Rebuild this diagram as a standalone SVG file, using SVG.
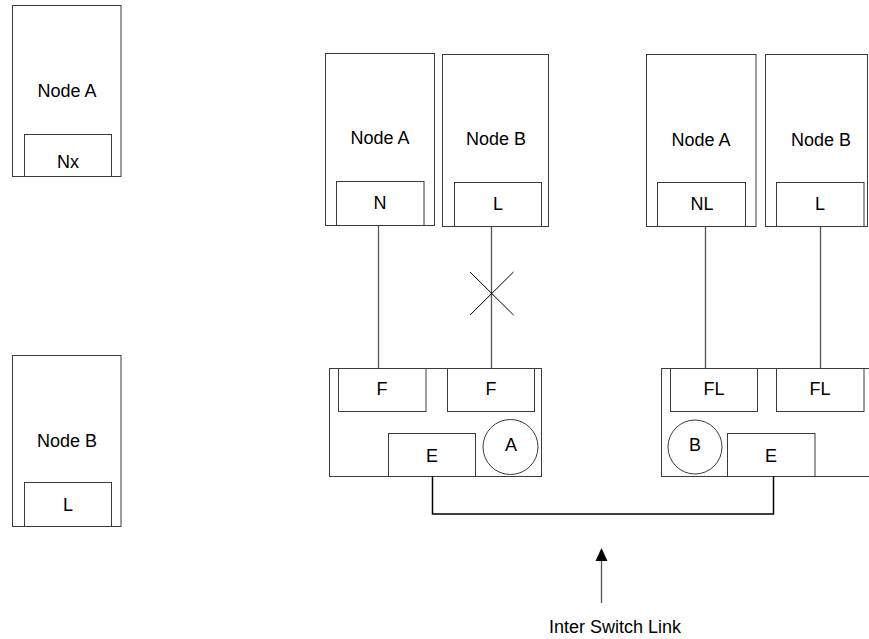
<svg xmlns="http://www.w3.org/2000/svg" width="869" height="639" viewBox="0 0 869 639">
  <style>
    .box { fill: #ffffff; stroke: #3a3a3a; stroke-width: 1; }
    .port { fill: #ffffff; stroke: #3a3a3a; stroke-width: 1; }
    .lbl { font-family: "Liberation Sans", Arial, sans-serif; font-size: 18px; fill: #000000; text-anchor: middle; }
    .wire { fill: none; stroke: #555555; stroke-width: 1.3; }
    .cross { fill: none; stroke: #000000; stroke-width: 1; }
  </style>
  <rect width="869" height="639" fill="#ffffff"/>

  <!-- standalone hosts on the left -->
  <g id="host-a-left">
    <rect class="box" x="12.5" y="5.5" width="108.5" height="171"/>
    <text class="lbl" x="67" y="97">Node A</text>
    <rect class="port" x="24.5" y="134.5" width="87" height="42"/>
    <text class="lbl" x="68" y="168">Nx</text>
  </g>
  <g id="host-b-left">
    <rect class="box" x="12.5" y="355.5" width="108.5" height="171"/>
    <text class="lbl" x="67" y="447">Node B</text>
    <rect class="port" x="24.5" y="482.5" width="87" height="44"/>
    <text class="lbl" x="68" y="511">L</text>
  </g>

  <!-- hosts attached to switch A -->
  <g id="host-a-mid">
    <rect class="box" x="325.5" y="53.5" width="109" height="172"/>
    <text class="lbl" x="380" y="144">Node A</text>
    <rect class="port" x="336.5" y="181.5" width="87.5" height="44"/>
    <text class="lbl" x="380" y="209">N</text>
  </g>
  <g id="host-b-mid">
    <rect class="box" x="442.5" y="54.5" width="106" height="172"/>
    <text class="lbl" x="496" y="145">Node B</text>
    <rect class="port" x="454.5" y="182.5" width="87" height="44"/>
    <text class="lbl" x="498" y="210">L</text>
  </g>

  <!-- hosts attached to switch B -->
  <g id="host-a-right">
    <rect class="box" x="646.5" y="54.5" width="109.5" height="172"/>
    <text class="lbl" x="701" y="146">Node A</text>
    <rect class="port" x="657.5" y="182.5" width="88" height="44"/>
    <text class="lbl" x="702" y="210">NL</text>
  </g>
  <g id="host-b-right">
    <rect class="box" x="765.5" y="54.5" width="102" height="172"/>
    <text class="lbl" x="821" y="146">Node B</text>
    <rect class="port" x="776.5" y="182.5" width="87.5" height="44"/>
    <text class="lbl" x="820" y="210">L</text>
  </g>

  <!-- switch A -->
  <g id="switch-a">
    <rect class="box" x="329.5" y="368.5" width="212" height="108"/>
    <rect class="port" x="338.5" y="368.5" width="87.5" height="43"/>
    <text class="lbl" x="382" y="395">F</text>
    <rect class="port" x="447.5" y="368.5" width="87" height="43"/>
    <text class="lbl" x="491" y="395">F</text>
    <rect class="port" x="388.5" y="433.5" width="87" height="43"/>
    <text class="lbl" x="432" y="462">E</text>
    <circle class="port" cx="510.5" cy="447" r="27.5"/>
    <text class="lbl" x="511" y="451">A</text>
  </g>

  <!-- switch B -->
  <g id="switch-b">
    <rect class="box" x="661.5" y="368.5" width="220" height="108"/>
    <rect class="port" x="670.5" y="368.5" width="87" height="43"/>
    <text class="lbl" x="714" y="395">FL</text>
    <rect class="port" x="776.5" y="368.5" width="87.5" height="43"/>
    <text class="lbl" x="820" y="395">FL</text>
    <circle class="port" cx="695" cy="447" r="27"/>
    <text class="lbl" x="695" y="451">B</text>
    <rect class="port" x="727.5" y="433.5" width="87.5" height="43"/>
    <text class="lbl" x="771" y="462">E</text>
  </g>

  <!-- links -->
  <g id="connectors">
    <line class="wire" x1="378.5" y1="225.5" x2="378.5" y2="368.5"/>
    <line class="wire" x1="491.5" y1="226.5" x2="491.5" y2="368.5"/>
    <line class="cross" x1="470" y1="272" x2="513.5" y2="315"/>
    <line class="cross" x1="513.5" y1="272" x2="470" y2="315"/>
    <line class="wire" x1="705.5" y1="226.5" x2="705.5" y2="368.5"/>
    <line class="wire" x1="820.5" y1="226.5" x2="820.5" y2="368.5"/>
    <path d="M432.5 476.5 V514 H773.5 V476.5" fill="none" stroke="#000000" stroke-width="1.5"/>
    <line class="wire" x1="601.5" y1="603" x2="601.5" y2="560"/>
    <polygon points="601.5,548 595.5,561 607.5,561" fill="#000000"/>
  </g>

  <text class="lbl" x="615" y="633">Inter Switch Link</text>
</svg>
